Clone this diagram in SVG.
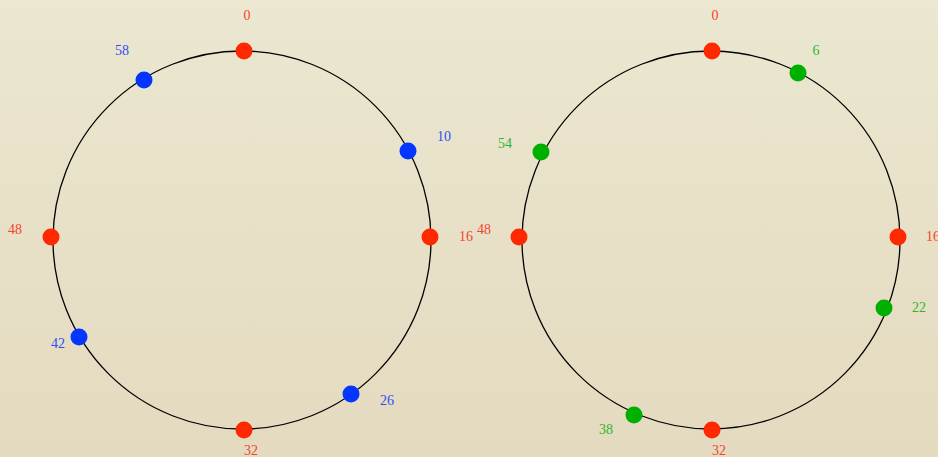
<svg xmlns="http://www.w3.org/2000/svg" width="938" height="457" viewBox="0 0 938 457">
<defs>
<linearGradient id="bg" x1="0" y1="0" x2="0" y2="1">
<stop offset="0" stop-color="#ebe7d0"/>
<stop offset="1" stop-color="#e4dabf"/>
</linearGradient>
</defs>
<style>
.ring{fill:none;stroke:#000;stroke-width:1.3}
.r{fill:#ff2800}
.b{fill:#0536ff}
.g{fill:#00b000}
text{font-family:"Liberation Serif","DejaVu Serif",serif;font-size:14px;text-anchor:middle}
.tr{fill:#f2452c}
.tb{fill:#2e4ff0}
.tg{fill:#2fb52f}
</style>
<rect width="938" height="457" fill="url(#bg)"/>
<g id="connectors">
<circle class="ring" cx="242" cy="240" r="189"/>
<circle class="ring" cx="711" cy="240" r="189"/>
</g>
<g id="left">
<g id="L0"><circle class="r" cx="244" cy="51" r="8.5"/><text class="tr" x="247" y="20">0</text></g>
<g id="L58"><circle class="b" cx="144" cy="80" r="8.5"/><text class="tb" x="122" y="55">58</text></g>
<g id="L10"><circle class="b" cx="408" cy="151" r="8.5"/><text class="tb" x="444" y="141">10</text></g>
<g id="L16"><circle class="r" cx="430" cy="237" r="8.5"/><text class="tr" x="466" y="241">16</text></g>
<g id="L48"><circle class="r" cx="51" cy="237" r="8.5"/><text class="tr" x="15" y="234">48</text></g>
<g id="L42"><circle class="b" cx="79" cy="337" r="8.5"/><text class="tb" x="58" y="348">42</text></g>
<g id="L26"><circle class="b" cx="351" cy="394" r="8.5"/><text class="tb" x="387" y="405">26</text></g>
<g id="L32"><circle class="r" cx="244" cy="430" r="8.5"/><text class="tr" x="251" y="455">32</text></g>
</g>
<g id="right">
<g id="R0"><circle class="r" cx="712" cy="51" r="8.5"/><text class="tr" x="715" y="20">0</text></g>
<g id="R6"><circle class="g" cx="798" cy="73" r="8.5"/><text class="tg" x="816" y="55">6</text></g>
<g id="R54"><circle class="g" cx="541" cy="152" r="8.5"/><text class="tg" x="505" y="148">54</text></g>
<g id="R48"><circle class="r" cx="519" cy="237" r="8.5"/><text class="tr" x="484" y="234">48</text></g>
<g id="R16"><circle class="r" cx="898" cy="237" r="8.5"/><text class="tr" x="933" y="241">16</text></g>
<g id="R22"><circle class="g" cx="884" cy="308" r="8.5"/><text class="tg" x="919" y="312">22</text></g>
<g id="R38"><circle class="g" cx="634" cy="415" r="8.5"/><text class="tg" x="606" y="434">38</text></g>
<g id="R32"><circle class="r" cx="712" cy="430" r="8.5"/><text class="tr" x="719" y="455">32</text></g>
</g>
</svg>
